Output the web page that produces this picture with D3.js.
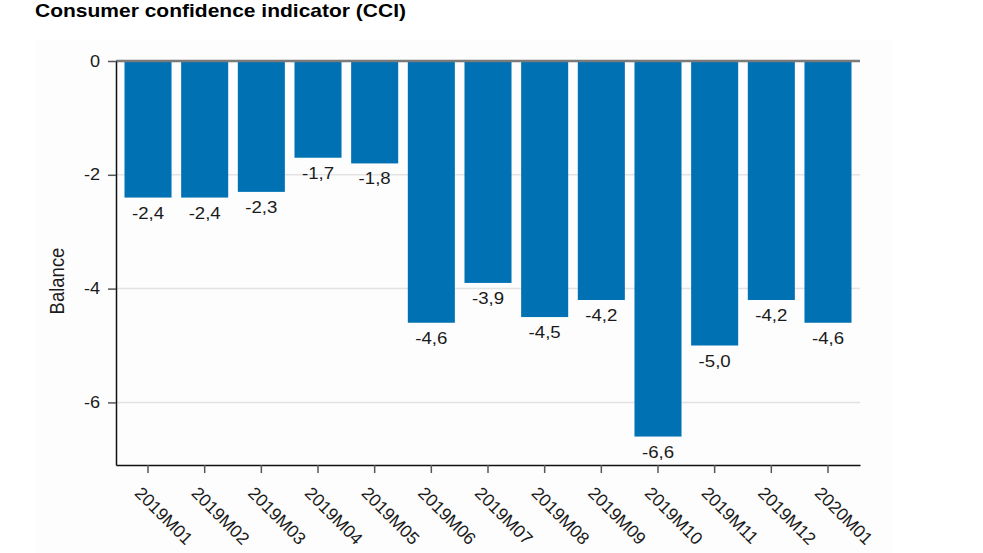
<!DOCTYPE html>
<html>
<head>
<meta charset="utf-8">
<script src="https://cdn.jsdelivr.net/npm/d3@7"></script>
<style>
  html, body { margin: 0; padding: 0; background: #fff; }
  svg { display: block; font-family: "Liberation Sans", Arial, sans-serif; }
</style>
</head>
<body>
<svg id="chart" width="983" height="553"></svg>
<script>
const categories = ["2019M01","2019M02","2019M03","2019M04","2019M05","2019M06","2019M07","2019M08","2019M09","2019M10","2019M11","2019M12","2020M01"];
const values = [-2.4, -2.4, -2.3, -1.7, -1.8, -4.6, -3.9, -4.5, -4.2, -6.6, -5.0, -4.2, -4.6];
const yTicks = [0, -2, -4, -6];
const title = "Consumer confidence indicator (CCI)";
const yLabel = "Balance";

const SX = 1.13; // horizontal glyph stretch seen in the reference
const svg = d3.select("#chart");
const plotLeft = 116, plotRight = 860, plotTop = 61, plotBottom = 465;

svg.append("rect").attr("x", 35).attr("y", 40).attr("width", 858).attr("height", 513).attr("fill", "#fdfdfd");

const x = d3.scaleBand().domain(categories).range([plotLeft, plotRight]).paddingInner(0.17).paddingOuter(0.15);
const y = d3.scaleLinear().domain([-7.1, 0]).range([plotBottom, plotTop]);

// title
svg.append("text")
  .attr("transform", `translate(35,17) scale(${SX},1)`)
  .attr("font-size", 18.6).attr("font-weight", "bold").attr("fill", "#000")
  .text(title);

// gridlines
svg.append("g").selectAll("line").data(yTicks.filter(d => d !== 0)).join("line")
  .attr("x1", plotLeft).attr("x2", plotRight)
  .attr("y1", d => y(d)).attr("y2", d => y(d))
  .attr("stroke", "#e3e3e3").attr("stroke-width", 1.5);

// bars
svg.append("g").selectAll("rect").data(categories).join("rect")
  .attr("x", d => x(d)).attr("width", x.bandwidth())
  .attr("y", y(0)).attr("height", (d, i) => y(values[i]) - y(0))
  .attr("fill", "#0071b3");

// zero line
svg.append("line").attr("x1", plotLeft).attr("x2", plotRight).attr("y1", y(0)).attr("y2", y(0))
  .attr("stroke", "#7a7a7a").attr("stroke-width", 2.5);

// value labels
svg.append("g").selectAll("text").data(categories).join("text")
  .attr("transform", (d, i) => `translate(${x(d) + x.bandwidth() / 2},${y(values[i]) + 21}) scale(${SX},1)`)
  .attr("text-anchor", "middle").attr("font-size", 16.5).attr("fill", "#1a1a1a")
  .text((d, i) => d3.format(".1f")(values[i]).replace("−", "-").replace(".", ","));

// y axis
const yAxis = d3.axisLeft(y).tickValues(yTicks).tickSize(8).tickSizeOuter(0).tickFormat(d => String(d));
const gy = svg.append("g").attr("transform", `translate(${plotLeft},0)`).call(yAxis);
gy.attr("font-family", null).attr("font-size", null);
gy.select(".domain").attr("stroke", "#111").attr("stroke-width", 1.5);
gy.selectAll(".tick line").attr("stroke", "#555").attr("stroke-width", 1.5);
gy.selectAll(".tick text").attr("font-size", 16).attr("fill", "#1a1a1a")
  .attr("x", null).attr("dy", null)
  .attr("dominant-baseline", "central")
  .attr("transform", `translate(-16,0) scale(${SX},1)`);

// x axis
const xAxis = d3.axisBottom(x).tickSize(8).tickSizeOuter(0);
const gx = svg.append("g").attr("transform", `translate(0,${plotBottom})`).call(xAxis);
gx.attr("font-family", null).attr("font-size", null);
gx.select(".domain").attr("stroke", "#111").attr("stroke-width", 1.5);
gx.selectAll(".tick line").attr("stroke", "#555").attr("stroke-width", 1.5);
gx.selectAll(".tick text")
  .attr("y", null).attr("dy", null)
  .attr("text-anchor", "start").attr("dominant-baseline", "central")
  .attr("font-size", 17.5).attr("fill", "#1a1a1a")
  .attr("transform", "translate(-10,25) rotate(45)");

// y label
svg.append("text")
  .attr("transform", `translate(57,281) scale(${SX},1) rotate(-90)`)
  .attr("text-anchor", "middle").attr("dominant-baseline", "central")
  .attr("font-size", 18.5).attr("fill", "#1a1a1a")
  .text(yLabel);
</script>
</body>
</html>
